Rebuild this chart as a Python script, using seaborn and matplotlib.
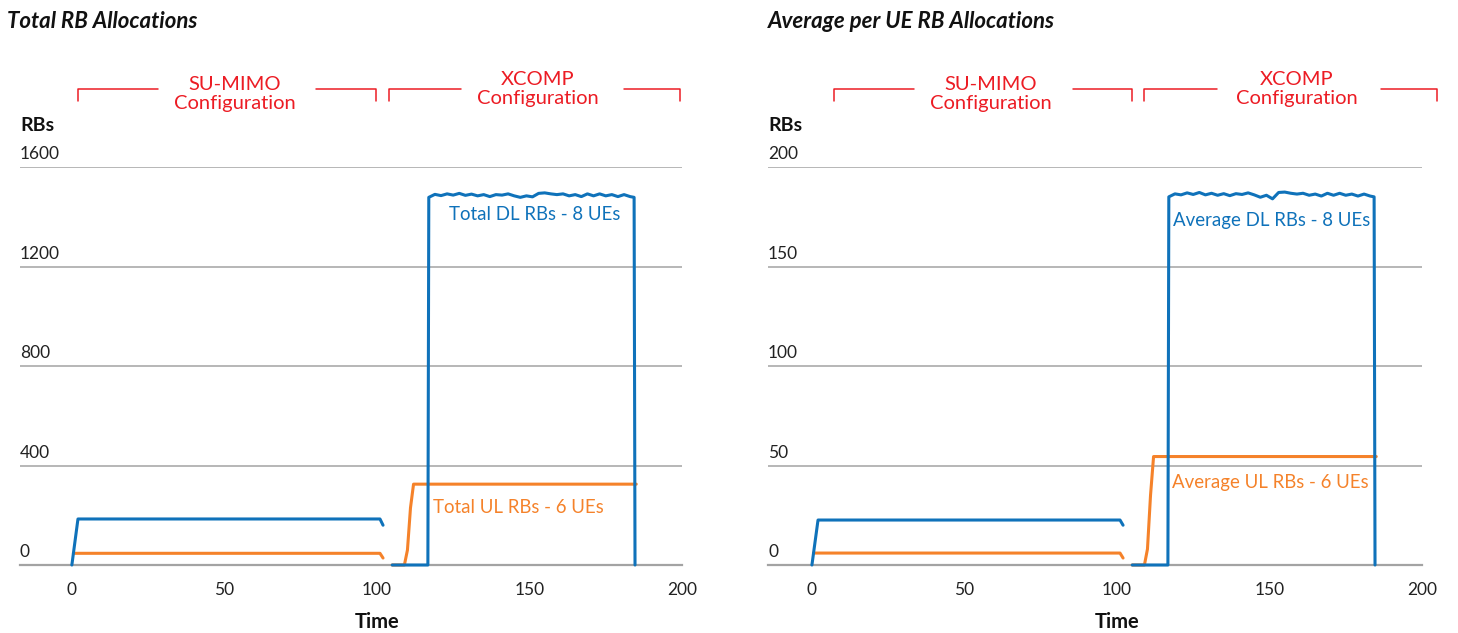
import matplotlib

matplotlib.use("Agg")
import matplotlib.pyplot as plt
import matplotlib.transforms as mtransforms
import pandas as pd
import seaborn as sns

BLUE = "#0f72ba"
ORANGE = "#f5822a"
RED = "#ec1c24"
GRID = "#a3a3a3"

# ---- data ------------------------------------------------------------------
# SU-MIMO phase (both panels share the time samples)
su_dl_t = [0, 2, 101, 102]
su_ul_t = [0.5, 101, 102]
# XCOMP phase
xc_ul_t = [105, 109, 110, 111, 112, 185]
xc_dl_top_t = [117, 119, 121, 123, 125, 127, 129, 131, 133, 135, 137, 139,
               141, 143, 145, 147, 149, 151, 153, 155, 157, 159, 161, 163,
               165, 167, 169, 171, 173, 175, 177, 179, 181, 183, 184.3]
xc_dl_t = [105, 116.7] + xc_dl_top_t + [184.6]

# Total RB allocations
total_su_dl = [0, 185, 185, 160]
total_su_ul = [47, 47, 28]
total_xc_ul = [0, 0, 60, 230, 325, 325]
total_xc_dl_top = [1478, 1490, 1485, 1492, 1487, 1494, 1486, 1491, 1484, 1489,
                   1481, 1489, 1487, 1492, 1484, 1478, 1484, 1480, 1494, 1496,
                   1492, 1489, 1492, 1484, 1489, 1481, 1492, 1484, 1492, 1484,
                   1489, 1481, 1489, 1481, 1478]
total_xc_dl = [0, 0] + total_xc_dl_top + [0]

# Average per UE RB allocations
avg_su_dl = [0, 22.6, 22.6, 20]
avg_su_ul = [6, 6, 3.5]
avg_xc_ul = [0, 0, 8, 35, 54.5, 54.5]
avg_xc_dl_top = [185.0, 186.5, 186.0, 187.0, 186.2, 187.2, 186.0, 186.8, 185.8,
                 186.6, 185.6, 186.6, 186.2, 187.0, 186.0, 184.8, 185.8, 184.0,
                 187.2, 187.4, 186.8, 186.4, 186.8, 185.8, 186.4, 185.4, 186.8,
                 185.8, 186.8, 185.8, 186.4, 185.4, 186.4, 185.4, 185.0]
avg_xc_dl = [0, 0] + avg_xc_dl_top + [0]

x_ticks = [0, 50, 100, 150, 200]
total_yticks = [0, 400, 800, 1200, 1600]
avg_yticks = [0, 50, 100, 150, 200]


def series_frame(parts):
    rows = []
    for seg, (ts, vs) in enumerate(parts):
        for t, v in zip(ts, vs):
            rows.append({"seg": seg, "time": t, "rbs": v})
    return pd.DataFrame(rows)


def draw_panel(ax, cfg):
    ul = series_frame([(su_ul_t, cfg["su_ul"]), (xc_ul_t, cfg["xc_ul"])])
    dl = series_frame([(su_dl_t, cfg["su_dl"]), (xc_dl_t, cfg["xc_dl"])])
    sns.lineplot(data=ul, x="time", y="rbs", units="seg", estimator=None,
                 color=ORANGE, linewidth=2.2, sort=False, ax=ax)
    sns.lineplot(data=dl, x="time", y="rbs", units="seg", estimator=None,
                 color=BLUE, linewidth=2.2, sort=False, ax=ax)
    for line in ax.lines:
        line.set_clip_on(False)
        line.set_zorder(3)

    yt = cfg["yticks"]
    ax.set_xlim(cfg["xmin"], 200)
    ax.set_ylim(yt[0], yt[-1])
    ax.set_xticks(x_ticks)
    ax.set_yticks(yt)
    ax.set_yticklabels([])
    ax.tick_params(axis="y", length=0)
    ax.tick_params(axis="x", length=8, width=1.1, color=GRID, pad=4,
                   labelsize=12.5, labelcolor="#222222")
    ax.set_xlabel("")
    ax.set_ylabel("")
    ax.yaxis.grid(True, color=GRID, linewidth=1.1)
    ax.xaxis.grid(False)
    for side in ("left", "top", "right"):
        ax.spines[side].set_visible(False)
    ax.spines["bottom"].set_color(GRID)
    ax.spines["bottom"].set_linewidth(1.6)

    # y tick labels sit above the gridlines
    trans_y = mtransforms.blended_transform_factory(ax.transAxes, ax.transData)
    for v in yt:
        ax.annotate(f"{v}", xy=(0, v), xycoords=trans_y, xytext=(0, 3.5),
                    textcoords="offset points", ha="left", va="bottom",
                    fontsize=12.5, color="#222222")
    ax.text(0, 1.105, "RBs", transform=ax.transAxes, ha="left", va="center",
            fontsize=14, fontweight="bold", color="#111111")

    trans = mtransforms.blended_transform_factory(ax.transData, ax.transAxes)
    ax.text(100, -0.143, "Time", transform=trans, ha="center", va="center",
            fontsize=14.5, fontweight="bold", color="#111111")

    # configuration brackets
    top, bot = 1.196, 1.165
    for (x0, g0, g1, x1) in cfg["brackets"]:
        ax.plot([x0, x0, g0], [bot, top, top], color=RED, lw=1.1,
                transform=trans, clip_on=False)
        ax.plot([g1, x1, x1], [top, top, bot], color=RED, lw=1.1,
                transform=trans, clip_on=False)
    for (xc, yc, txt) in cfg["bracket_text"]:
        ax.text(xc, yc, txt, transform=trans, ha="center", va="center",
                fontsize=14.5, color=RED, linespacing=1.15)

    for (xt, yv, txt, col) in cfg["labels"]:
        ax.text(xt, yv, txt, ha="left", va="center", fontsize=13.4, color=col)

    ax.figure.text(cfg["title_x"], 1 - 21.5 / 633, cfg["title"],
                   fontsize=16, fontweight="bold", style="italic",
                   color="#111111", va="center", ha="left")


sns.set_theme(style="white")
plt.rcParams["font.family"] = ["Lato", "DejaVu Sans"]

fig = plt.figure(figsize=(14.58, 6.33), dpi=100)
ax_total = fig.add_axes([20 / 1458, 1 - 565 / 633, 662 / 1458, 398 / 633])
ax_avg = fig.add_axes([768 / 1458, 1 - 565 / 633, 654 / 1458, 398 / 633])

draw_panel(ax_total, {
    "su_dl": total_su_dl, "su_ul": total_su_ul,
    "xc_dl": total_xc_dl, "xc_ul": total_xc_ul,
    "yticks": total_yticks, "xmin": -17,
    "brackets": [(2, 28.2, 80, 99.8), (103.8, 127.5, 181.1, 199.3)],
    "bracket_text": [(53.4, 1.184, "SU-MIMO\nConfiguration"),
                     (152.8, 1.196, "XCOMP\nConfiguration")],
    "labels": [(123.5, 1410, "Total DL RBs - 8 UEs", BLUE),
               (118.5, 233, "Total UL RBs - 6 UEs", ORANGE)],
    "title": "Total RB Allocations", "title_x": 7 / 1458,
})

draw_panel(ax_avg, {
    "su_dl": avg_su_dl, "su_ul": avg_su_ul,
    "xc_dl": avg_xc_dl, "xc_ul": avg_xc_ul,
    "yticks": avg_yticks, "xmin": -14.4,
    "brackets": [(7.4, 33.4, 85.5, 105), (109, 132.8, 186.7, 204.9)],
    "bracket_text": [(58.7, 1.184, "SU-MIMO\nConfiguration"),
                     (158.9, 1.196, "XCOMP\nConfiguration")],
    "labels": [(118.5, 173, "Average DL RBs - 8 UEs", BLUE),
               (118.2, 41.7, "Average UL RBs - 6 UEs", ORANGE)],
    "title": "Average per UE RB Allocations", "title_x": 768 / 1458,
})

fig.savefig("out.png", dpi=100)
